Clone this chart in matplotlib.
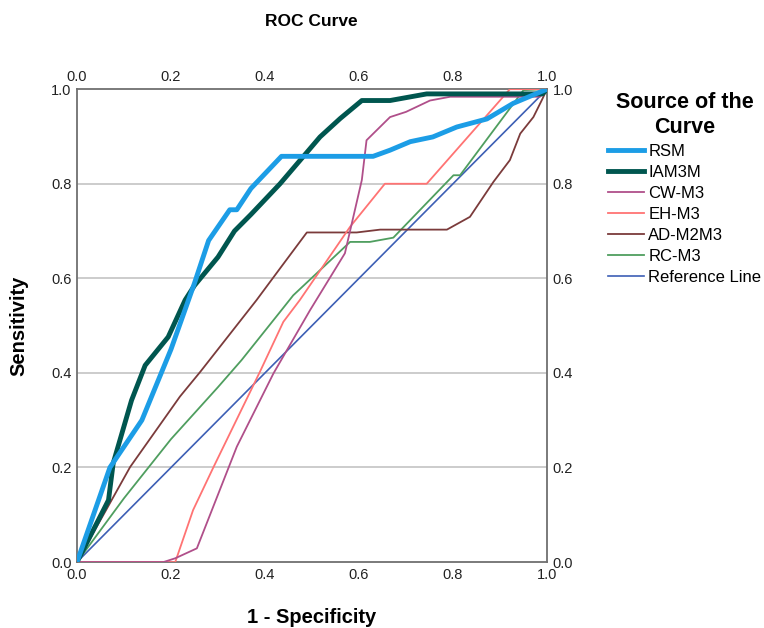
import matplotlib.pyplot as plt

plt.rcParams['font.family'] = ['Liberation Sans', 'DejaVu Sans']

# ROC curves (x = 1 - specificity, y = sensitivity)
rsm_x = [0.0, 0.07, 0.138, 0.2, 0.25, 0.28, 0.325, 0.34, 0.37, 0.435, 0.63, 0.666, 0.709, 0.757, 0.808, 0.872, 0.928, 1.0]
rsm_y = [0.0, 0.2, 0.30, 0.45, 0.59, 0.68, 0.745, 0.745, 0.79, 0.858, 0.858, 0.871, 0.889, 0.899, 0.92, 0.937, 0.97, 1.0]

iam_x = [0.0, 0.067, 0.077, 0.116, 0.145, 0.194, 0.23, 0.25, 0.3, 0.335, 0.37, 0.432, 0.481, 0.517, 0.56, 0.606, 0.666, 0.744, 0.99, 1.0]
iam_y = [0.0, 0.131, 0.209, 0.342, 0.416, 0.476, 0.554, 0.585, 0.645, 0.70, 0.735, 0.80, 0.857, 0.899, 0.938, 0.976, 0.976, 0.99, 0.99, 1.0]

cw_x = [0.0, 0.184, 0.209, 0.255, 0.34, 0.418, 0.496, 0.57, 0.606, 0.616, 0.666, 0.70, 0.751, 0.794, 0.985, 1.0]
cw_y = [0.0, 0.0, 0.008, 0.029, 0.244, 0.399, 0.533, 0.653, 0.808, 0.892, 0.941, 0.952, 0.976, 0.984, 0.984, 1.0]

eh_x = [0.0, 0.209, 0.247, 0.29, 0.389, 0.439, 0.474, 0.581, 0.655, 0.744, 0.921, 1.0]
eh_y = [0.0, 0.0, 0.11, 0.2, 0.402, 0.508, 0.554, 0.709, 0.80, 0.80, 1.0, 1.0]

ad_x = [0.0, 0.113, 0.219, 0.262, 0.382, 0.432, 0.489, 0.595, 0.645, 0.787, 0.836, 0.886, 0.921, 0.943, 0.971, 0.989, 1.0]
ad_y = [0.0, 0.201, 0.35, 0.402, 0.554, 0.621, 0.697, 0.697, 0.703, 0.703, 0.73, 0.804, 0.85, 0.906, 0.941, 0.977, 1.0]

rc_x = [0.0, 0.1, 0.2, 0.3, 0.35, 0.432, 0.46, 0.581, 0.623, 0.673, 0.801, 0.815, 0.95, 1.0]
rc_y = [0.0, 0.135, 0.26, 0.37, 0.427, 0.529, 0.564, 0.677, 0.677, 0.686, 0.818, 0.818, 0.998, 1.0]

ref_x = [0.0, 1.0]
ref_y = [0.0, 1.0]

fig = plt.figure(figsize=(7.64, 6.28), dpi=100)
ax = fig.add_axes([0.1008, 0.105, 0.6152, 0.753])

for v in [0.2, 0.4, 0.6, 0.8]:
    ax.axhline(v, color="#c8c8c8", lw=1.3, zorder=0)

ax.plot(ref_x, ref_y, color="#3d5fb5", lw=1.2, label="Reference Line", zorder=2)
ax.plot(rc_x, rc_y, color="#4f9e5f", lw=1.3, label="RC-M3", zorder=3)
ax.plot(ad_x, ad_y, color="#7b3b3b", lw=1.3, label="AD-M2M3", zorder=3)
ax.plot(eh_x, eh_y, color="#ff7373", lw=1.3, label="EH-M3", zorder=3)
ax.plot(cw_x, cw_y, color="#b04f8a", lw=1.3, label="CW-M3", zorder=3)
ax.plot(iam_x, iam_y, color="#00564f", lw=3.5, label="IAM3M", zorder=4)
ax.plot(rsm_x, rsm_y, color="#1c9de6", lw=3.5, label="RSM", zorder=5)

ax.set_xlim(0, 1)
ax.set_ylim(0, 1)
ticks = [0.0, 0.2, 0.4, 0.6, 0.8, 1.0]
ax.set_xticks(ticks)
ax.set_yticks(ticks)
ax.set_xticklabels(["%.1f" % t for t in ticks])
ax.set_yticklabels(["%.1f" % t for t in ticks])
ax.tick_params(length=0, labelsize=10.5, colors="#222222", pad=4,
               top=True, labeltop=True, right=True, labelright=True)
for s in ax.spines.values():
    s.set_color("#707070")
    s.set_linewidth(1.3)

ax.set_xlabel("1 - Specificity", fontsize=14.5, fontweight="bold", labelpad=19)
ax.set_ylabel("Sensitivity", fontsize=14.5, fontweight="bold", labelpad=16)
fig.text(0.408, 0.965, "ROC Curve", ha="center", va="center", fontsize=12.5, fontweight="bold")

handles, labels = ax.get_legend_handles_labels()
order = ["RSM", "IAM3M", "CW-M3", "EH-M3", "AD-M2M3", "RC-M3", "Reference Line"]
hmap = dict(zip(labels, handles))
leg = fig.legend([hmap[k] for k in order], order, loc="upper left",
                 bbox_to_anchor=(0.796, 0.853), frameon=False, fontsize=12,
                 title="Source of the\nCurve", handlelength=2.15, handletextpad=0.25,
                 labelspacing=0.36, borderaxespad=0, borderpad=0)
leg.get_title().set_fontsize(15.5)
leg.get_title().set_fontweight("bold")
leg.get_title().set_multialignment("center")

fig.savefig("out.png", dpi=100)
